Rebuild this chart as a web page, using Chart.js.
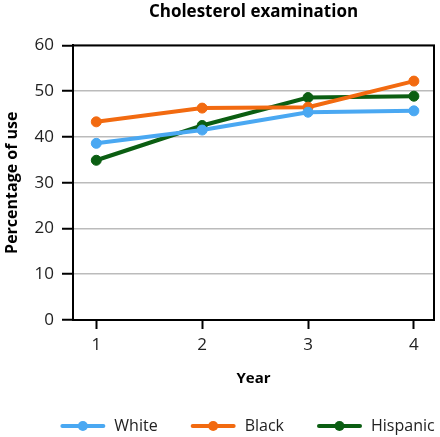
<!DOCTYPE html>
<html>
<head>
<meta charset="utf-8">
<script src="https://cdn.jsdelivr.net/npm/chart.js@4"></script>
<style>
  html, body { margin: 0; padding: 0; background: #fff; }
  #wrap { width: 440px; height: 437px; }
</style>
</head>
<body>
<div id="wrap"><canvas id="chart"></canvas></div>
<script>
const years = [1, 2, 3, 4];
const white = [38.6, 41.5, 45.4, 45.7];
const black = [43.3, 46.3, 46.5, 52.2];
const hispanic = [34.9, 42.5, 48.6, 48.9];
const yTicks = [0, 10, 20, 30, 40, 50, 60];

const FONT = '"Open Sans", "Noto Sans", sans-serif';

function series(label, values, color) {
    return {
        label: label,
        data: years.map((x, i) => ({x: x, y: values[i]})),
        borderColor: color,
        backgroundColor: color,
        borderWidth: 4,
        pointRadius: 5,
        pointHoverRadius: 5,
        pointBorderWidth: 1,
        tension: 0
    };
}

// frame around the plot area
const frame = {
    id: 'frame',
    afterDatasetsDraw(chart) {
        var a = chart.chartArea;
        var ctx = chart.ctx;
        ctx.save();
        ctx.strokeStyle = '#000';
        ctx.lineWidth = 2;
        ctx.strokeRect(a.left, a.top, a.right - a.left, a.bottom - a.top);
        ctx.restore();
    }
};

// one-row legend under the x axis: line + dot swatch, then label
const lineLegend = {
    id: 'lineLegend',
    afterDraw(chart) {
        var ctx = chart.ctx;
        var a = chart.chartArea;
        var sets = chart.data.datasets;
        var swW = 45, gapText = 9, gapItem = 33;
        ctx.save();
        ctx.font = '16px ' + FONT;
        var widths = sets.map(ds => swW + gapText + ctx.measureText(ds.label).width);
        var total = widths.reduce((s, w) => s + w, 0) + gapItem * (sets.length - 1);
        var x = (a.left + a.right) / 2 - total / 2 - 6;
        var y = 426;
        sets.forEach((ds, i) => {
            ctx.strokeStyle = ds.borderColor;
            ctx.fillStyle = ds.borderColor;
            ctx.lineWidth = 4;
            ctx.lineCap = 'round';
            ctx.beginPath();
            ctx.moveTo(x + 2, y);
            ctx.lineTo(x + swW - 2, y);
            ctx.stroke();
            ctx.beginPath();
            ctx.arc(x + swW / 2, y, 5, 0, Math.PI * 2);
            ctx.fill();
            ctx.fillStyle = '#222';
            ctx.textBaseline = 'middle';
            ctx.textAlign = 'left';
            ctx.fillText(ds.label, x + swW + gapText, y);
            x += widths[i] + gapItem;
        });
        ctx.restore();
    }
};

new Chart(document.getElementById('chart'), {
    type: 'line',
    data: {
        datasets: [
            series('White', white, '#4aa8f2'),
            series('Black', black, '#f26a10'),
            series('Hispanic', hispanic, '#0b5e12')
        ]
    },
    options: {
        responsive: true,
        maintainAspectRatio: false,
        animation: false,
        layout: { padding: { left: 0, right: 0, top: 0, bottom: 37 } },
        plugins: {
            tooltip: { enabled: false },
            legend: { display: false },
            title: {
                display: true,
                text: 'Cholesterol examination',
                fullSize: false,
                color: '#000',
                font: { family: FONT, size: 17, weight: 'bold' },
                padding: { top: 2, bottom: 23 }
            }
        },
        scales: {
            x: {
                type: 'linear',
                min: 0.78,
                max: 4.19,
                afterBuildTicks(axis) {
                    axis.ticks = years.map(v => ({value: v}));
                },
                afterFit(axis) { axis.height = 80; },
                grid: { drawOnChartArea: false, tickLength: 9, tickColor: '#000', tickWidth: 2 },
                border: { color: '#000', width: 2 },
                ticks: { color: '#222', font: { family: FONT, size: 17 }, padding: 6 },
                title: {
                    display: true,
                    text: 'Year',
                    color: '#000',
                    font: { family: FONT, size: 15, weight: 'bold' },
                    padding: { top: 4, bottom: 12 }
                }
            },
            y: {
                min: 0,
                max: 60,
                afterBuildTicks(axis) {
                    axis.ticks = yTicks.map(v => ({value: v}));
                },
                afterFit(axis) { axis.width = 73; },
                grid: { color: '#bbb', lineWidth: 1.5, tickLength: 11, tickColor: '#000', tickWidth: 2 },
                border: { color: '#000', width: 2 },
                ticks: { color: '#222', font: { family: FONT, size: 17 }, padding: 8 },
                title: {
                    display: true,
                    text: 'Percentage of use',
                    color: '#000',
                    font: { family: FONT, size: 16, weight: 'bold' },
                    padding: { top: 3, bottom: 2 }
                }
            }
        }
    },
    plugins: [frame, lineLegend]
});
</script>
</body>
</html>
